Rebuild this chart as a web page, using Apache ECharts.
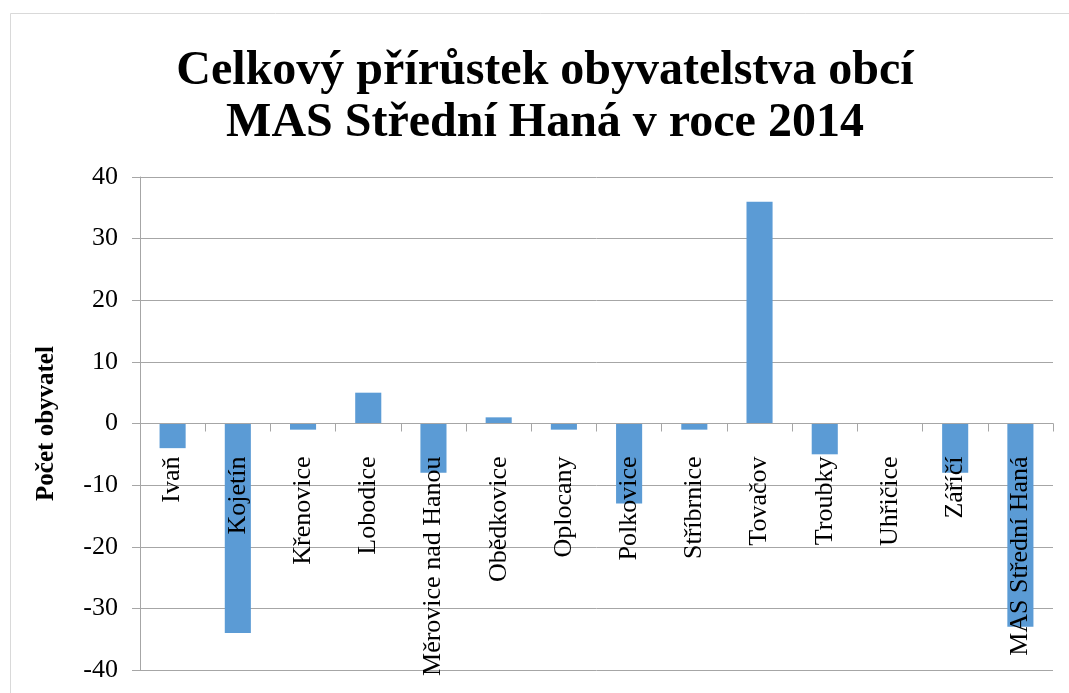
<!DOCTYPE html>
<html>
<head>
<meta charset="utf-8">
<script src="https://cdn.jsdelivr.net/npm/echarts@6/dist/echarts.min.js"></script>
<style>
html,body{margin:0;padding:0;background:#fff;}
#chart{width:1069px;height:693px;}
</style>
</head>
<body>
<div id="chart"></div>
<script>
var categories = ['Ivaň','Kojetín','Křenovice','Lobodice','Měrovice nad Hanou','Obědkovice','Oplocany','Polkovice','Stříbrnice','Tovačov','Troubky','Uhřičice','Záříčí','MAS Střední Haná'];
var values = [-4,-34,-1,5,-8,1,-1,-13,-1,36,-5,0,-8,-33];
var titleText = 'Celkový přírůstek obyvatelstva obcí\nMAS Střední Haná v roce 2014';
var yAxisName = 'Počet obyvatel';
var yMin = -40, yMax = 40, yStep = 10;

var FONT = '"Liberation Serif","Times New Roman",serif';
var GRID_TOP = 177, GRID_BOTTOM = 23, H = 693;
var plotH = H - GRID_TOP - GRID_BOTTOM;
// place the category axis on the zero line
var zeroOffset = -plotH * (0 - yMin) / (yMax - yMin);

var chart = echarts.init(document.getElementById('chart'), null, {renderer:'canvas'});
chart.setOption({
  animation:false,
  backgroundColor:'#ffffff',
  graphic:[{
    type:'rect', z:-1,
    shape:{x:10.5,y:13.5,width:1100,height:700},
    style:{fill:'none',stroke:'#d9d9d9',lineWidth:1}
  }],
  title:{
    text:titleText,
    left:540, textAlign:'center', top:41,
    textStyle:{fontFamily:FONT,fontWeight:'bold',fontSize:48,lineHeight:52,color:'#000'}
  },
  grid:{left:140,right:16,top:GRID_TOP,bottom:GRID_BOTTOM,outerBoundsMode:'none'},
  xAxis:{
    type:'category',
    data:categories,
    position:'bottom',
    offset:zeroOffset,
    z:5,
    axisLine:{onZero:false,lineStyle:{color:'#a6a6a6',width:1}},
    axisTick:{show:true,length:8,alignWithLabel:false,lineStyle:{color:'#a6a6a6'}},
    axisLabel:{interval:0,rotate:90,margin:33,fontFamily:FONT,fontSize:26,color:'#000'},
    splitLine:{show:false}
  },
  yAxis:{
    type:'value',
    min:yMin,max:yMax,interval:yStep,
    name:yAxisName,
    nameLocation:'middle',
    nameGap:81,
    nameRotate:90,
    nameTextStyle:{fontFamily:FONT,fontWeight:'bold',fontSize:25,color:'#000'},
    axisLine:{show:true,lineStyle:{color:'#a6a6a6',width:1}},
    axisTick:{show:true,length:8,lineStyle:{color:'#a6a6a6'}},
    axisLabel:{margin:22,fontFamily:FONT,fontSize:26,color:'#000'},
    splitLine:{show:true,lineStyle:{color:'#a6a6a6',width:1}}
  },
  series:[{
    type:'bar',
    data:values,
    barCategoryGap:'60%',
    itemStyle:{color:'#5b9bd5'}
  }]
});
</script>
</body>
</html>
